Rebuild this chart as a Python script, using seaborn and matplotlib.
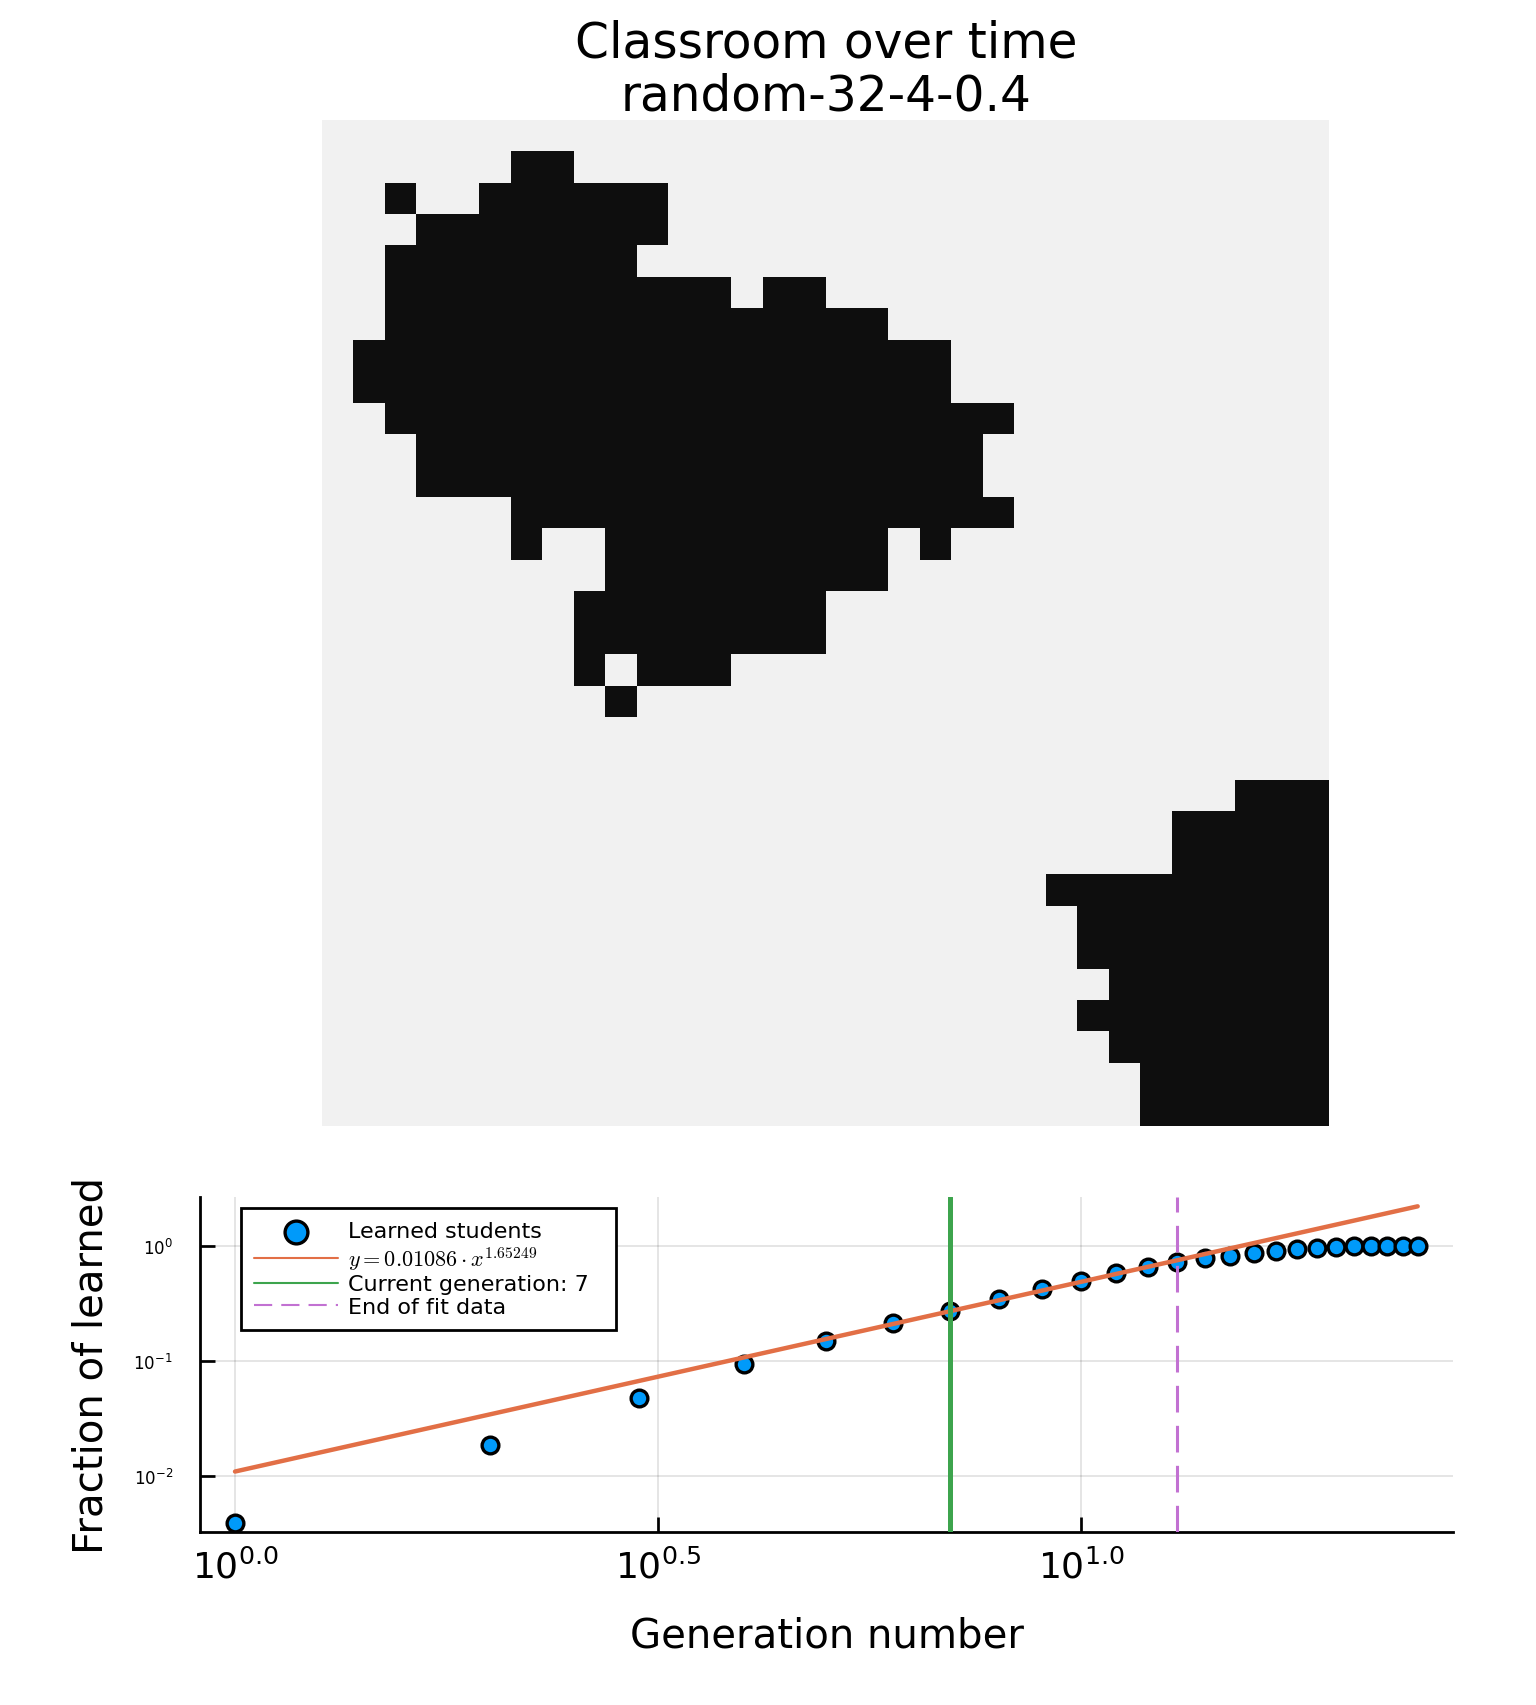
import numpy as np
import pandas as pd
import matplotlib
matplotlib.use("Agg")
import matplotlib.pyplot as plt
from matplotlib.colors import ListedColormap
import seaborn as sns

# Classroom state: black cells per row as (first col, end col)
grid_size = 32
learned_runs = {
    1: [(6, 8)],
    2: [(2, 3), (5, 11)],
    3: [(3, 11)],
    4: [(2, 10)],
    5: [(2, 13), (14, 16)],
    6: [(2, 18)],
    7: [(1, 20)],
    8: [(1, 20)],
    9: [(2, 22)],
    10: [(3, 21)],
    11: [(3, 21)],
    12: [(6, 22)],
    13: [(6, 7), (9, 18), (19, 20)],
    14: [(9, 18)],
    15: [(8, 16)],
    16: [(8, 16)],
    17: [(8, 9), (10, 13)],
    18: [(9, 10)],
    21: [(29, 32)],
    22: [(27, 32)],
    23: [(27, 32)],
    24: [(23, 32)],
    25: [(24, 32)],
    26: [(24, 32)],
    27: [(25, 32)],
    28: [(24, 32)],
    29: [(25, 32)],
    30: [(26, 32)],
    31: [(26, 32)],
}

generations = list(range(1, 26))
fraction_learned = [0.0039, 0.0185, 0.0477, 0.0935, 0.148, 0.2127, 0.2685, 0.341, 0.42, 0.496,
                    0.575, 0.652, 0.726, 0.781, 0.818, 0.863, 0.905, 0.929, 0.948, 0.974,
                    0.987, 0.99, 0.995, 1.0, 1.0]
fit_x = [1, 25]
fit_y = [0.01086, 2.2]
current_gen = 7
fit_end_gen = 13

x_ticks = [10**0.0, 10**0.5, 10**1.0]
x_labels = ["$10^{0.0}$", "$10^{0.5}$", "$10^{1.0}$"]
y_ticks = [1e-2, 1e-1, 1e0]
y_labels = ["$10^{-2}$", "$10^{-1}$", "$10^{0}$"]

sns.set_theme(style="white")
plt.rcParams["font.family"] = ["DejaVu Sans"]
plt.rcParams["mathtext.fontset"] = "dejavusans"
for key in ["text.color", "axes.labelcolor", "xtick.color", "ytick.color"]:
    plt.rcParams[key] = "black"

W, H = 1536, 1706
fig = plt.figure(figsize=(W / 100, H / 100), dpi=100)


def axes_box(left, top, right, bottom):
    return [left / W, 1 - bottom / H, (right - left) / W, (bottom - top) / H]


# Heatmap
ax_map = fig.add_axes(axes_box(322, 120.7, 1329, 1126.7))
grid = np.zeros((grid_size, grid_size))
for row, runs in learned_runs.items():
    for start, stop in runs:
        grid[row, start:stop] = 1
sns.heatmap(pd.DataFrame(grid), ax=ax_map, cmap=ListedColormap(["#f1f1f1", "#0e0e0e"]),
            cbar=False, xticklabels=False, yticklabels=False, square=False)
ax_map.set_xlabel("")
ax_map.set_ylabel("")
ax_map.set_title("Classroom over time\nrandom-32-4-0.4", fontsize=35, pad=6.5, x=0.501, linespacing=1.13)

# Fit plot
ax = fig.add_axes(axes_box(200, 1198, 1453, 1533))
sns.scatterplot(x=generations, y=fraction_learned, ax=ax, s=145, color="#009AFA", edgecolor="black",
                linewidth=2.4, label="Learned students", zorder=3)
sns.lineplot(x=fit_x, y=fit_y, ax=ax, color="#E26F46", linewidth=3.2, estimator=None, zorder=4,
             label=r"$y = 0.01086 \cdot x^{1.65249}$")
ax.axvline(current_gen, color="#3DA44D", linewidth=3.6, zorder=5, label=f"Current generation: {current_gen}  ")
ax.axvline(fit_end_gen, color="#C271D2", linewidth=2.2, zorder=5, dashes=(8.73, 4.36), label="End of fit data")

ax.set_xscale("log")
ax.set_yscale("log")
ax.set_xlim(10**-0.0414, 10**1.4397)
ax.set_ylim(10**-2.49, 10**0.4235)
ax.set_xticks(x_ticks, x_labels)
ax.set_yticks(y_ticks, y_labels)
ax.minorticks_off()
ax.tick_params(axis="x", direction="in", length=10.8, width=1.95, labelsize=26, pad=12, bottom=True)
ax.tick_params(axis="y", direction="in", length=10.8, width=1.95, labelsize=12, pad=19.5, left=True)
ax.grid(True, which="major", color="black", alpha=0.1, linewidth=1.45)
ax.set_axisbelow(True)
sns.despine(ax=ax)
for side in ["left", "bottom"]:
    ax.spines[side].set_linewidth(2.0)
    ax.spines[side].set_color("black")

ax.set_xlabel("Generation number", fontsize=29)
ax.set_ylabel("Fraction of learned", fontsize=29)
ax.xaxis.set_label_coords(0.5, -0.248)
ax.yaxis.set_label_coords(-0.071, 0.5)

handles, labels = ax.get_legend_handles_labels()
order = [labels.index("Learned students")] + [i for i, l in enumerate(labels) if l != "Learned students"]
leg = ax.legend([handles[i] for i in order], [labels[i] for i in order], loc="upper left",
                bbox_to_anchor=(41 / 1253, 1 - 11 / 335), borderaxespad=0, fontsize=16, fancybox=False,
                framealpha=1, edgecolor="black", labelspacing=0.12, handlelength=3.75, handletextpad=0.45,
                borderpad=0.6)
leg.get_frame().set_linewidth(2.0)
for line in leg.get_lines():
    line.set_linewidth(1.5)
leg.legend_handles[0].set_sizes([270])
leg.get_texts()[1].set_math_fontfamily("cm")

fig.savefig("out.png", dpi=100, facecolor="white")
